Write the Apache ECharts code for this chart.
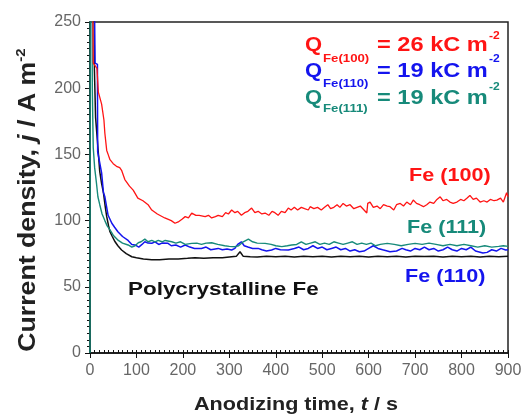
<!DOCTYPE html>
<html><head><meta charset="utf-8">
<script src="https://cdn.jsdelivr.net/npm/echarts@6/dist/echarts.min.js"></script>
<style>html,body{margin:0;padding:0;background:#fff}#c{width:525px;height:419px}</style>
</head><body><div id="c"></div>
<script>
const xTicks = [0,100,200,300,400,500,600,700,800,900];
const yTicks = [0,50,100,150,200,250];

const fe100 = [[5,300],[7,219],[15,215],[18,197],[22,198],[25,188],[30,176],[32,166],[36,153],[39,150],[43,146],[50,143],[57,141],[64,140],[68,138],[75,131],[85,126],[93,123],[103,117],[114,115],[125,112],[133,108],[145,105],[161,102],[175,100],[183,98],[190,99],[198,101],[205,103],[212,102],[219,105.7],[228,104],[235,104],[248,103],[255,104],[262,102],[270,103],[276,104],[285,103],[292,106],[298,105],[305,108],[312,106],[318,107],[326,104],[333,106],[340,107],[348,109.5],[355,106],[362,107],[370,105],[377,105.7],[385,104],[392,107],[398,106],[405,104],[412,107],[420,106],[427,109.5],[433,108],[440,110],[447,108],[455,110],[462,109],[470,108],[474,110.5],[482,109],[490,110],[498,108],[505,110],[512,112],[518,109],[525,110],[532,112],[538,110],[545,113],[552,111],[560,112],[568,109],[575,110],[582,111],[590,108],[596,105.7],[598,113],[603,114],[610,110],[618,111],[625,109],[632,112],[640,111],[646,110.5],[654,108],[660,112],[668,113],[675,111],[682,114],[690,112],[696,115.5],[703,113],[710,112],[718,110.5],[725,112],[732,114],[740,113],[747,116],[754,118],[760,115],[768,116],[775,114],[782,113],[790,114],[798,116],[805,115],[812,117],[818,119],[825,116],[832,117],[840,114],[848,115],[855,114],[862,116],[870,115],[876,115.5],[884,117],[890,114],[897,121],[900,118]];

const fe110 = [[9,300],[10,250],[11,219],[16,218],[16.5,152],[25,136],[29,121],[32,118],[37,108],[39,104],[47,98],[53,95],[60,91.6],[70,88],[82,85],[90,82],[97,81.6],[105,80],[112,82],[118,84],[125,83],[133,82.8],[140,84],[148,82],[155,83],[168,82.8],[175,81],[185,81.6],[195,80],[205,81.6],[215,80],[225,79],[240,79],[250,80],[260,78],[276,79],[285,78],[295,78.5],[305,77.8],[312,79],[318,82],[326,84],[332,81],[340,80],[350,79],[362,79],[370,78],[380,77],[391,77.8],[400,79],[410,78],[427,77.8],[440,79],[450,80],[460,78],[470,79],[480,81],[490,79],[500,80],[510,78],[520,79],[530,80],[540,78],[550,79],[560,77],[570,78],[580,76.5],[590,77],[600,79],[610,81],[620,79],[630,78],[646,76.5],[660,77],[672,79],[680,78],[690,77],[700,79],[710,78],[720,80],[730,78],[740,79],[750,77],[760,78],[770,80],[780,78],[790,77],[800,79],[810,78],[820,80],[830,77],[846,75.5],[855,76],[865,78],[875,77],[885,79],[895,77.8],[900,78]];

const fe111 = [[0,0],[0.5,300],[3,300],[4.5,250],[5,200],[6,176],[7,155],[10,140],[14,128],[17,118],[21,112],[26,105],[32,100],[37,96],[43,93],[50,89],[61,85],[70,83],[82,81.6],[90,80],[97,81],[104,83.3],[110,84],[118,86],[125,84],[133,85],[140,84],[147,85],[155,84],[162,85],[176,84],[185,83],[195,84],[205,82],[219,82.8],[230,83],[240,82],[250,83],[262,83.3],[275,82],[290,81],[300,80.5],[312,80.3],[320,81],[330,84],[341,86],[350,84],[360,83],[377,82.8],[390,82],[400,81],[413,80.3],[425,81],[434,81.6],[445,82],[455,84],[465,82],[475,83],[485,84],[495,82],[505,83],[515,82],[525,84],[535,83],[545,82],[555,83],[565,84],[575,82],[585,83],[595,82],[605,83],[615,81],[625,82],[640,82.8],[655,82],[670,81],[685,82],[700,82.8],[715,82],[730,83],[745,82],[760,81],[775,82],[790,81],[805,82],[820,81],[835,80],[850,81],[865,80],[880,80.5],[890,81],[900,80.5]];

const polyFe = [[8,300],[9,250],[9.5,214],[11,214],[12,178],[16,160],[21,137],[25,128],[29,121],[33,110],[36,103],[40,96],[43,91.6],[48,88],[54,84],[60,81],[68,77.8],[78,75],[90,72.7],[100,72],[115,71],[133,70.5],[150,70.5],[170,71],[190,71],[210,71.5],[226,72],[245,71.5],[265,72],[285,72],[300,72.5],[315,73],[323,76.5],[330,73],[345,72.7],[360,72.5],[380,73],[400,72.7],[420,73],[440,72.5],[460,73],[480,72.7],[500,73],[520,72.5],[540,73],[560,72.7],[580,73],[600,72.5],[620,73],[640,72.7],[660,73],[680,72.5],[700,73],[720,72.8],[740,73],[760,72.5],[780,73],[800,72.7],[820,73],[840,72.5],[860,73],[880,72.7],[900,73]];

const seriesNames = ['Polycrystalline Fe','Fe (110)','Fe (111)','Fe (100)'];
const qLines = [
  {sub:'Fe(100)', val:'= 26 kC m'},
  {sub:'Fe(110)', val:'= 19 kC m'},
  {sub:'Fe(111)', val:'= 19 kC m'}
];

const RED='#ff1414', BLUE='#1414ee', TEAL='#178a7a', BLACK='#111111';
const FF='"Liberation Sans", Arial, sans-serif';

function T(x,y,text,opt){
  opt=opt||{};
  return {type:'text', x:x, y:y, scaleX:opt.sx||1, rotation:opt.rot||0, z:100,
    style:{text:text, fill:opt.color||'#111', font:(opt.style||'normal')+' '+(opt.weight||'bold')+' '+(opt.size||18)+'px '+FF,
      textAlign:opt.align||'left', align:opt.align||'left', textVerticalAlign:'middle', verticalAlign:'middle', rich:opt.rich}};
}

const qColors=[RED,BLUE,TEAL];
const qY=[45,71,98], subY=[59,84,109], supY=[36,59,87];
const graphics=[];
qLines.forEach((q,i)=>{
  graphics.push(T(305,qY[i],'Q',{color:qColors[i],size:20,sx:1.1}));
  graphics.push(T(323,subY[i],q.sub,{color:qColors[i],size:11,sx:1.2}));
  graphics.push(T(377,qY[i],q.val,{color:qColors[i],size:20,sx:1.18}));
  graphics.push(T(489,supY[i],'-2',{color:qColors[i],size:11,sx:1.1}));
});
graphics.push(T(409,176,seriesNames[3],{color:RED,size:18,sx:1.2}));
graphics.push(T(407,228,seriesNames[2],{color:TEAL,size:18,sx:1.2}));
graphics.push(T(405,277,seriesNames[1],{color:BLUE,size:18,sx:1.2}));
graphics.push(T(128,290,seriesNames[0],{color:BLACK,size:19,sx:1.18}));
// axis titles
graphics.push(T(296,405,'Anodizing time, {i|t} / s',{color:'#222',size:18,sx:1.2,align:'center',
  rich:{i:{fontStyle:'italic',fontWeight:'bold',fontSize:18,fontFamily:FF,fill:'#222',color:'#222'}}}));
graphics.push(T(29,200,'Current density, {i|j} / A m{s|-2}',{color:'#222',size:23,sx:1.16,align:'center',rot:Math.PI/2,
  rich:{i:{fontStyle:'italic',fontWeight:'bold',fontSize:23,fontFamily:FF,fill:'#222',color:'#222'},
        s:{fontWeight:'bold',fontSize:13,fontFamily:FF,fill:'#222',color:'#222',padding:[0,0,16,0]}}}));

const chart = echarts.init(document.getElementById('c'));
function mk(name,data,color,w){
  return {name:name,type:'line',data:data,showSymbol:false,symbol:'none',clip:true,
    lineStyle:{color:color,width:w},itemStyle:{color:color},animation:false};
}
chart.setOption({
  animation:false,
  grid:{left:90,right:17,top:22,bottom:66,show:true,borderColor:'#222',borderWidth:1.5},
  xAxis:[{type:'value',min:xTicks[0],max:xTicks[xTicks.length-1],interval:xTicks[1]-xTicks[0],
    axisLine:{lineStyle:{color:'#111',width:1.5}},axisTick:{length:5,lineStyle:{color:'#111'}},
    axisLabel:{color:'#666',fontSize:16,fontFamily:FF,margin:10},splitLine:{show:false}},
   {type:'value',position:'bottom',min:xTicks[0],max:xTicks[xTicks.length-1],interval:10,
    axisLine:{show:false},axisTick:{inside:true,length:3,lineStyle:{color:'#111'}},
    axisLabel:{show:false},splitLine:{show:false}}],
  yAxis:{type:'value',min:yTicks[0],max:yTicks[yTicks.length-1],interval:yTicks[1]-yTicks[0],
    axisLine:{show:true,lineStyle:{color:'#111',width:1.5}},axisTick:{show:true,length:5,lineStyle:{color:'#111'}},
    minorTick:{show:true,splitNumber:10,length:3,lineStyle:{color:'#111'}},
    axisLabel:{color:'#666',fontSize:16,fontFamily:FF,margin:9},splitLine:{show:false}},
  series:[mk(seriesNames[0],polyFe,BLACK,1.5),mk(seriesNames[1],fe110,BLUE,1.5),
          mk(seriesNames[2],fe111,TEAL,1.4),mk(seriesNames[3],fe100,RED,1.3)],
  graphic:graphics
});
</script></body></html>
